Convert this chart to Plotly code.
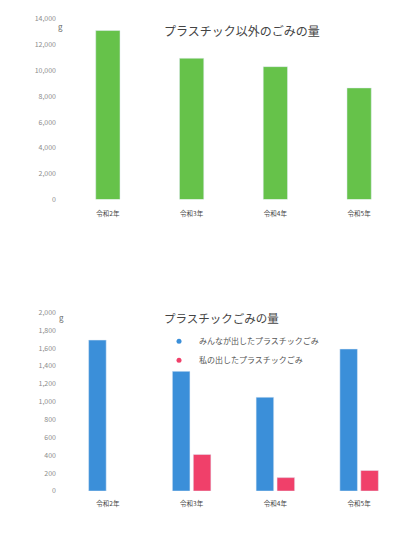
import plotly.graph_objects as go

categories = ["令和2年", "令和3年", "令和4年", "令和5年"]
other_waste = [13100, 10950, 10300, 8650]
plastic_all = [1690, 1340, 1050, 1590]
plastic_mine = [None, 410, 150, 230]
series_names = ["みんなが出したプラスチックごみ", "私の出したプラスチックごみ"]

top_ticks = [0, 2000, 4000, 6000, 8000, 10000, 12000, 14000]
bottom_ticks = [0, 200, 400, 600, 800, 1000, 1200, 1400, 1600, 1800, 2000]

W, H = 405, 541
OFF = 8  # page body margin
FONT = "Noto Sans CJK JP"
GREEN, BLUE, RED = "#66c24a", "#3b8fd9", "#f0406a"


def py(p):
    return 1 - (p - OFF) / H


def px(p):
    return (p - OFF) / W


fig = go.Figure()
fig.add_trace(go.Bar(x=categories, y=other_waste, marker_color=GREEN,
                     xaxis="x", yaxis="y", showlegend=False, width=0.29))
fig.add_trace(go.Bar(x=categories, y=plastic_all, marker_color=BLUE,
                     name=series_names[0], legendgroup="all", showlegend=False,
                     xaxis="x2", yaxis="y2", offsetgroup="a"))
fig.add_trace(go.Bar(x=categories, y=plastic_mine, marker_color=RED,
                     name=series_names[1], legendgroup="mine", showlegend=False,
                     xaxis="x2", yaxis="y2", offsetgroup="b"))
# legend entries drawn as small dots like the original
for nm, col, grp in [(series_names[0], BLUE, "all"), (series_names[1], RED, "mine")]:
    fig.add_trace(go.Scatter(x=[None], y=[None], mode="markers", name=nm,
                             legendgroup=grp, marker=dict(color=col, size=5),
                             xaxis="x2", yaxis="y2", hoverinfo="skip"))

xdom = [px(66), px(401)]
tickfont = dict(size=7, color="#8c8c8c", family=FONT)
catfont = dict(size=6.5, color="#444444", family=FONT)


def ann(text, x, y, size, color):
    return dict(text=text, x=px(x), y=py(y), xref="paper", yref="paper",
                xanchor="center", yanchor="middle", showarrow=False,
                font=dict(size=size, color=color, family=FONT))


fig.update_layout(
    width=W, height=H,
    margin=dict(l=0, r=0, t=0, b=0),
    paper_bgcolor="white", plot_bgcolor="white",
    font=dict(family=FONT),
    bargap=0.5, bargroupgap=0.16,
    xaxis=dict(domain=xdom, anchor="y", showgrid=False, showline=False,
               tickfont=catfont, ticks="", ticklabelstandoff=9),
    yaxis=dict(domain=[py(197), py(13)], range=[0, 14000], tickvals=top_ticks,
               tickformat=",d", showgrid=False, zeroline=False, showline=False,
               tickfont=tickfont, ticklabelstandoff=9),
    xaxis2=dict(domain=xdom, anchor="y2", showgrid=False, showline=False,
                tickfont=catfont, ticks="", ticklabelstandoff=7),
    yaxis2=dict(domain=[py(494), py(312)], range=[0, 2000], tickvals=bottom_ticks,
                tickformat=",d", showgrid=False, zeroline=False, showline=False,
                tickfont=tickfont, ticklabelstandoff=9),
    showlegend=True,
    legend=dict(x=px(159), y=py(351), xanchor="left", yanchor="middle",
                font=dict(size=8, color="#555555", family=FONT),
                itemwidth=30, tracegroupgap=0, bgcolor="rgba(0,0,0,0)"),
    annotations=[
        ann("プラスチック以外のごみの量", 242, 25, 12, "#444444"),
        ann("プラスチックごみの量", 222, 318, 11.5, "#444444"),
        ann("g", 60, 21, 8, "#666666"),
        ann("g", 61, 317, 8, "#666666"),
    ],
)

fig.write_html("out.html")
